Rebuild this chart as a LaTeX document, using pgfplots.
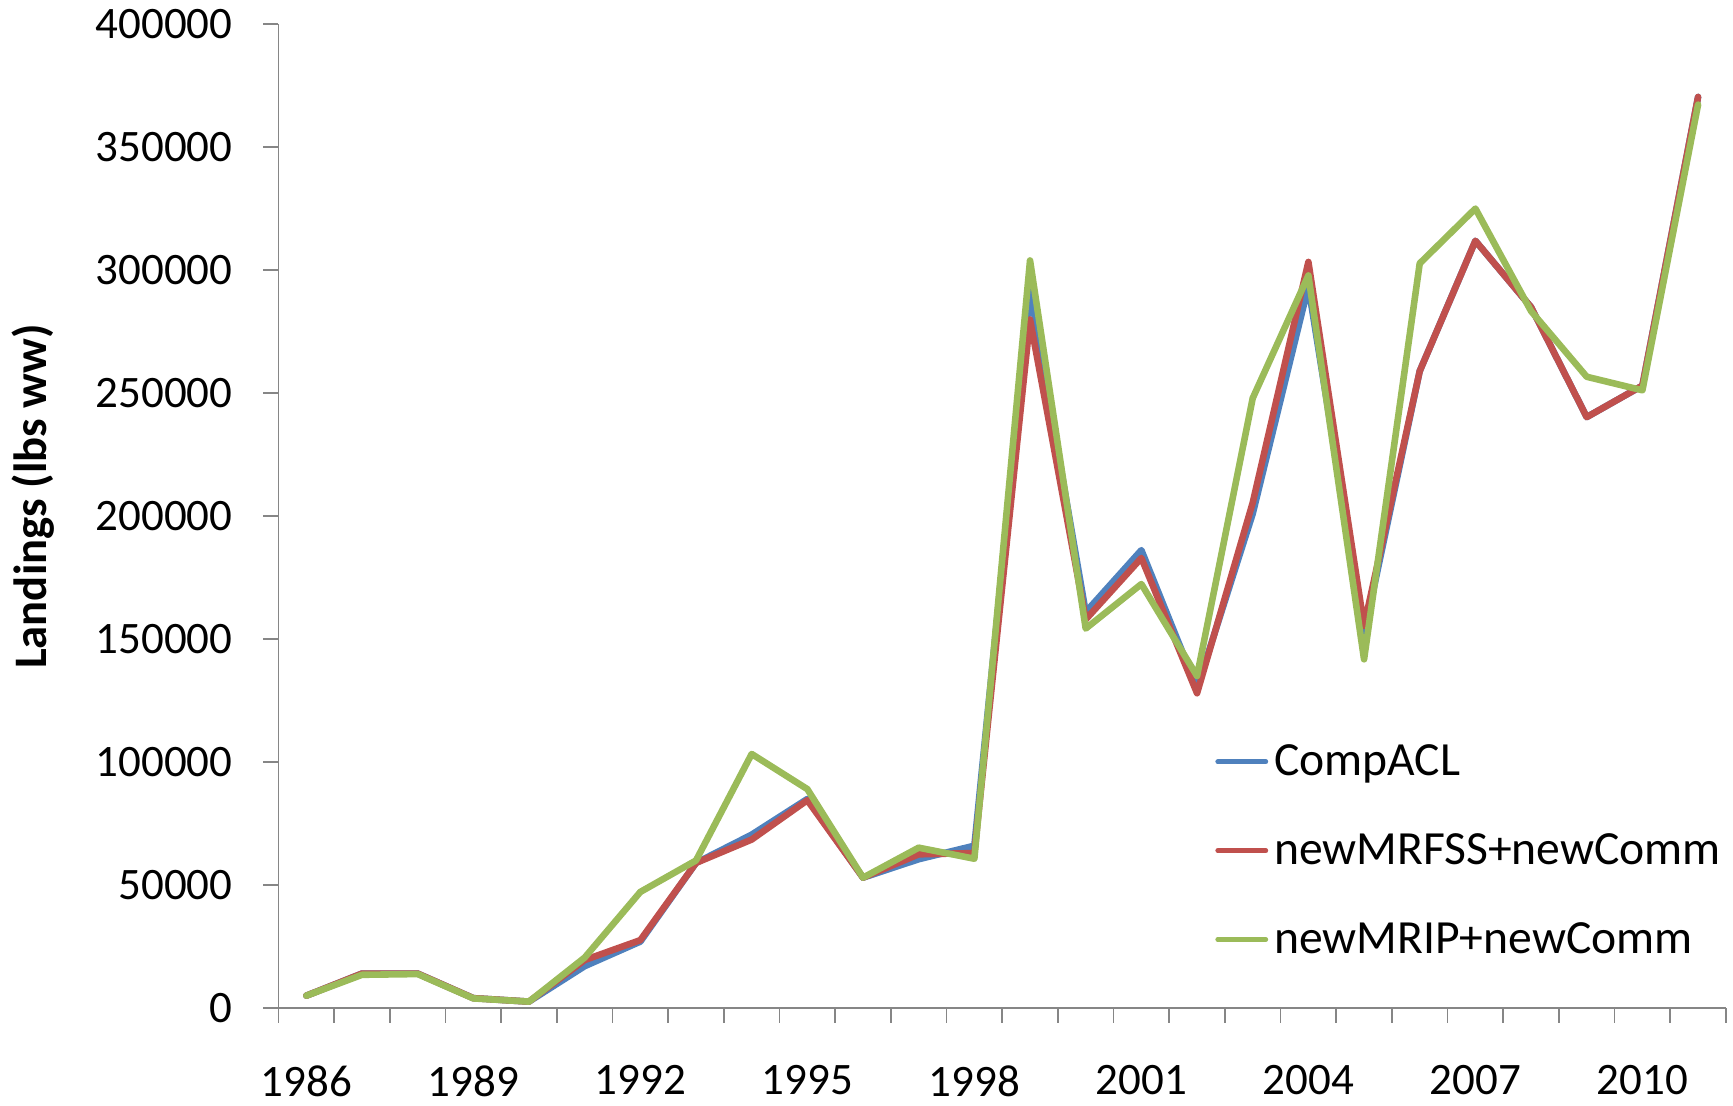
\documentclass[border=0pt]{standalone}
\usepackage{pgfplots}
\pgfplotsset{compat=1.18}
\usepackage{pgfplotstable}
\usepackage{fontspec}
\setmainfont{Carlito}
\definecolor{cblue}{HTML}{4F81BD}
\definecolor{cred}{HTML}{C0504D}
\definecolor{cgreen}{HTML}{9BBB59}
\definecolor{axgray}{HTML}{868686}
\pgfplotstableread{
idx blue red green
0 5000 5000 5000
1 14000 14000 13500
2 14000 14000 13800
3 4000 4000 3900
4 2600 2600 2600
5 17000 19500 20500
6 27000 27600 47200
7 59000 59000 60000
8 70500 68500 103300
9 85000 84500 89000
10 53000 53000 53000
11 60500 62500 65200
12 66000 63000 60700
13 292000 280000 304000
14 161000 158000 154300
15 186200 183000 172400
16 130000 128000 135000
17 201000 205500 248000
18 293500 303400 297900
19 152000 155400 141800
20 259000 259000 302800
21 312000 312000 325100
22 285000 285000 283400
23 240300 240300 256700
24 253100 253100 251200
25 370500 370500 367400
}\datatable
\begin{document}
\begin{tikzpicture}
\path[use as bounding box] (-139.25pt,-49pt) rectangle (727.25pt,504pt);
\begin{axis}[
  scale only axis,
  width=723.7pt, height=491.8pt,
  xmin=-0.5, xmax=25.5,
  ymin=0, ymax=400000,
  axis x line*=bottom, axis y line*=left,
  axis line style={axgray, line width=0.9pt},
  every tick/.style={axgray, line width=0.9pt},
  tick align=outside,
  major tick length=7.5pt,
  xtick={-0.5,0.5,...,25.5},
  xticklabels={},
  extra x ticks={0,3,6,9,12,15,18,21,24},
  extra x tick labels={1986,1989,1992,1995,1998,2001,2004,2007,2010},
  extra x tick style={tick style={draw=none}, xticklabel style={inner sep=0pt, yshift=-21pt}},
  ytick={0,50000,...,400000},
  scaled y ticks=false,
  yticklabel style={/pgf/number format/fixed, /pgf/number format/1000 sep={}, xshift=-12pt},
  /pgf/number format/assume math mode=true,
  tick label style={font=\fontsize{22.5}{26}\selectfont, text=black},
  ylabel={Landings (lbs ww)},
  ylabel style={font=\fontsize{23.3}{27}\selectfont\bfseries, at={(axis description cs:-0.1696,0.52)}, anchor=center},
  legend style={draw=none, fill=none, at={(axis description cs:0.647,0.272)}, anchor=north west,
    font=\fontsize{23.8}{28}\selectfont, row sep=23.5pt, inner sep=0pt,
    nodes={inner xsep=3pt}},
  legend cell align=left,
  legend image code/.code={\draw[#1, line width=2.4pt, line cap=round] (0pt,0pt) -- (24pt,0pt);},
  clip=false,
]
\addplot[cblue, line width=3.3pt, line join=round, line cap=round] table[x=idx, y=blue] {\datatable};
\addlegendentry{CompACL}
\addplot[cred, line width=3.3pt, line join=round, line cap=round] table[x=idx, y=red] {\datatable};
\addlegendentry{newMRFSS+newComm}
\addplot[cgreen, line width=3.3pt, line join=round, line cap=round] table[x=idx, y=green] {\datatable};
\addlegendentry{newMRIP+newComm}
\end{axis}
\end{tikzpicture}
\end{document}
